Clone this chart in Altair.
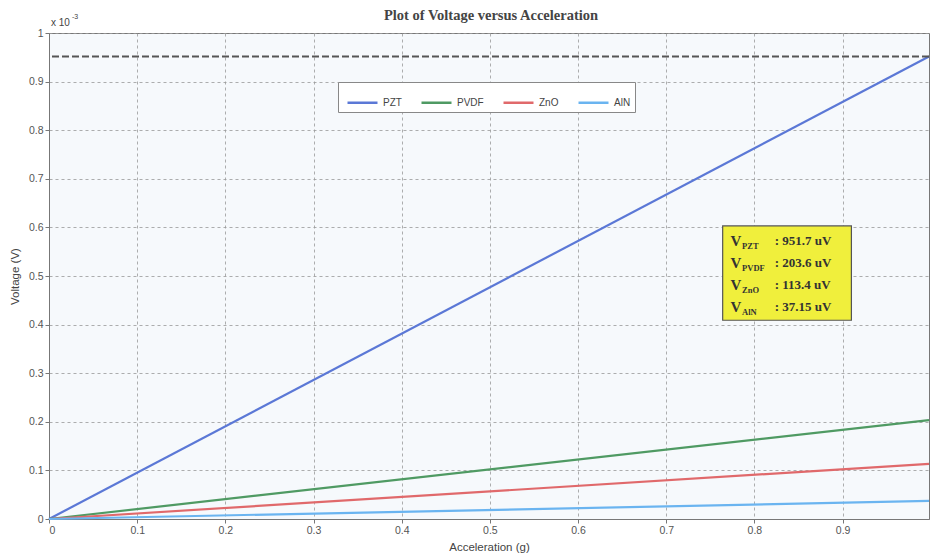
import altair as alt
import pandas as pd

# ---- data (values in units of 1e-3 V) ----
materials = ["PZT", "PVDF", "ZnO", "AlN"]
colors = ["#5b78d6", "#4f9a63", "#e0696b", "#6ab4f0"]
accel = [0.0, 0.998]
pzt = [0.0, 0.9517]
pvdf = [0.0, 0.2036]
zno = [0.0, 0.1134]
aln = [0.0, 0.03715]
x_ticks = [0, 0.1, 0.2, 0.3, 0.4, 0.5, 0.6, 0.7, 0.8, 0.9]
y_ticks = [0, 0.1, 0.2, 0.3, 0.4, 0.5, 0.6, 0.7, 0.8, 0.9, 1.0]
peak_level = 0.9517
box_labels = ["PZT", "PVDF", "ZnO", "AlN"]
box_values = [": 951.7 uV", ": 203.6 uV", ": 113.4 uV", ": 37.15 uV"]
title_text = ["Plot of Voltage versus Acceleration"]

rows = []
for name, series in zip(materials, [pzt, pvdf, zno, aln]):
    for a, v in zip(accel, series):
        rows.append({"Material": name, "Acceleration": a, "Voltage": v})
df = pd.DataFrame(rows)

xs = alt.Scale(domain=[0, 0.998], nice=False, zero=False)
ys = alt.Scale(domain=[0, 1.0], nice=False)

lines = alt.Chart(df).mark_line(strokeWidth=2.2).encode(
    x=alt.X("Acceleration:Q", scale=xs,
            axis=alt.Axis(values=x_ticks, format="~g", title="Acceleration (g)")),
    y=alt.Y("Voltage:Q", scale=ys,
            axis=alt.Axis(values=y_ticks, format="~g", title="Voltage (V)")),
    color=alt.Color("Material:N",
                    scale=alt.Scale(domain=materials, range=colors),
                    sort=materials,
                    legend=alt.Legend(
                        title=None, orient="none", legendX=289, legendY=49,
                        direction="horizontal", columns=4,
                        symbolType="stroke", symbolSize=900, symbolStrokeWidth=2.5,
                        labelFontSize=10, labelFont="Liberation Sans", labelColor="#444",
                        columnPadding=14, fillColor="white", strokeColor="#888",
                        padding=4, symbolOffset=4,
                    )),
)

peak = alt.Chart(pd.DataFrame({"y": [peak_level]})).mark_rule(
    color="#555", strokeWidth=2, strokeDash=[7, 3]
).encode(y=alt.Y("y:Q", scale=ys))

# annotation box (in data coordinates)
box = alt.Chart(pd.DataFrame({"x": [0.764], "x2": [0.910], "y": [0.603], "y2": [0.409]})).mark_rect(
    fill="#f0ef3c", stroke="#555", strokeWidth=1.2
).encode(x=alt.X("x:Q", scale=xs), x2="x2:Q", y=alt.Y("y:Q", scale=ys), y2="y2:Q")

ann = pd.DataFrame({
    "sub": box_labels,
    "val": box_values,
    "y": [0.572, 0.527, 0.482, 0.436],
    "xv": [0.773] * 4,
    "xs": [0.786] * 4,
    "xval": [0.823] * 4,
})
base_ann = alt.Chart(ann)
vtext = base_ann.mark_text(font="Liberation Serif", fontSize=15, fontWeight="bold",
                           color="#333", align="left", baseline="middle").encode(
    x=alt.X("xv:Q", scale=xs), y=alt.Y("y:Q", scale=ys), text=alt.value("V"))
subtext = base_ann.mark_text(font="Liberation Serif", fontSize=8.5, fontWeight="bold",
                             color="#333", align="left", baseline="middle", dy=5).encode(
    x=alt.X("xs:Q", scale=xs), y=alt.Y("y:Q", scale=ys), text="sub:N")
valtext = base_ann.mark_text(font="Liberation Serif", fontSize=13, fontWeight="bold",
                             color="#333", align="left", baseline="middle").encode(
    x=alt.X("xval:Q", scale=xs), y=alt.Y("y:Q", scale=ys), text="val:N")

exp_base = alt.Chart(pd.DataFrame({"t": ["x 10"]})).mark_text(
    font="Liberation Sans", fontSize=10, color="#444", align="left", baseline="middle").encode(
    x=alt.value(2), y=alt.value(-10), text="t:N")
exp_sup = alt.Chart(pd.DataFrame({"t": ["-3"]})).mark_text(
    font="Liberation Sans", fontSize=7, color="#444", align="left", baseline="middle").encode(
    x=alt.value(23), y=alt.value(-16), text="t:N")

title = alt.Chart(pd.DataFrame({"t": title_text})).mark_text(
    font="Liberation Serif", fontSize=14.5, fontWeight="bold", color="#444",
    align="center", baseline="middle").encode(
    x=alt.value(442), y=alt.value(-17), text="t:N")

chart = alt.layer(lines, peak, box, vtext, subtext, valtext, exp_base, exp_sup, title).properties(
    width=880, height=486,
    autosize=alt.AutoSizeParams(type="none"),
    padding={"left": 49, "top": 33, "right": 2, "bottom": 37},
    background="white",
).configure_view(
    fill="#f6f9fc", stroke="#777", strokeWidth=1
).configure_axis(
    grid=True, gridDash=[3, 3], gridColor="#9a9a9a", gridWidth=1, gridOpacity=0.8,
    domainColor="#777", tickColor="#777", tickSize=4,
    labelFont="Liberation Sans", labelFontSize=10.5, labelColor="#555",
    titleFont="Liberation Sans", titleFontSize=11.5, titleFontWeight="normal", titleColor="#444",
).configure_axisX(labelPadding=2, titlePadding=6).configure_axisY(labelPadding=2, titlePadding=8)

chart.save("out.html", embed_options={"renderer": "svg", "actions": False})
